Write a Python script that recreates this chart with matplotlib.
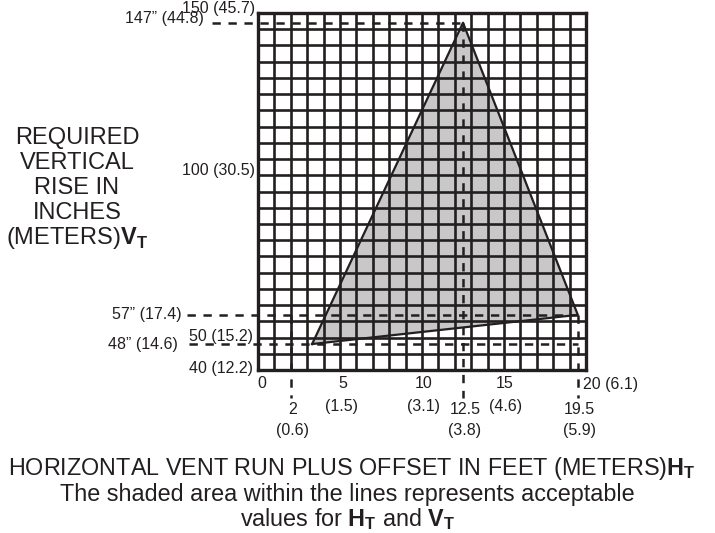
"""
Vent run chart: required vertical rise vs horizontal vent run + offset.
Grid with the acceptable region shaded as a triangle.
"""

import matplotlib
matplotlib.use("Agg")
import matplotlib.pyplot as plt
import numpy as np

# ── data ─────────────────────────────────────────────────────────────────
# acceptable region (H_T feet, V_T inches)
region_h = [3.3, 12.5, 19.5]
region_v = [48, 147, 57]

# dashed reference lines
ref_h_y     = [147, 57, 48]          # horizontal refs at these rises
ref_h_x_end = [12.5, 19.5, 19.5]
ref_h_x_beg = [-2.8, -4.3, -4.2]
ref_v_x     = [2, 12.5, 19.5]        # vertical refs at these runs
ref_v_y_top = [57, 147, 57]

# axis labels
y_labels = [
    (150, "150 (45.7)", -3, 5),
    (147, "147\u201d (44.8)", -54, 4),
    (100, "100 (30.5)", -3, 5),
    (57, "57\u201d (17.4)", -76, 0),
    (50, "50 (15.2)", -5, 1),
    (48, "48\u201d (14.6)", -80, 0),
    (40, "40 (12.2)", -5, 2),
]
x_labels_top = [(0, "0", 4), (5, "5", 3), (10, "10", 2), (15, "15", 1)]
x_labels_top_m = [(5, "(1.5)"), (10, "(3.1)"), (15, "(4.6)")]
x_labels_low = [(2, "2", "(0.6)"), (12.5, "12.5", "(3.8)"), (19.5, "19.5", "(5.9)")]

INK = "#231f20"
FILL = "#c8c8c8"

plt.rcParams.update({
    "font.family": "Liberation Sans",
    "mathtext.fontset": "custom",
    "mathtext.rm": "Liberation Sans",
    "mathtext.bf": "Liberation Sans:bold",
    "lines.scale_dashes": False,
})

fig = plt.figure(figsize=(7.15, 5.33), dpi=100)
ax = fig.add_axes([258 / 715, 1 - 370 / 533, 328 / 715, 357 / 533])
ax.set_xlim(0, 20)
ax.set_ylim(40, 150)

# shaded region
ax.fill(region_h, region_v, facecolor=FILL, edgecolor="none", zorder=1)

# grid
for gx in np.arange(0, 21, 1):
    ax.axvline(gx, color=INK, lw=1.9, zorder=2)
for gy in np.arange(40, 151, 5):
    ax.axhline(gy, color=INK, lw=1.9, zorder=2)

# triangle outline
ax.plot(region_h + region_h[:1], region_v + region_v[:1],
        color=INK, lw=1.6, zorder=4)

# dashed refs
for y, x0, x1 in zip(ref_h_y, ref_h_x_beg, ref_h_x_end):
    ax.plot([x0, x1], [y, y], color=INK, lw=1.8, dashes=(6, 5.5),
            clip_on=False, zorder=5)
for x, y1 in zip(ref_v_x, ref_v_y_top):
    ax.plot([x, x], [y1, 31.3], color=INK, lw=1.8, dashes=(6, 5.5),
            clip_on=False, zorder=5)

ax.set_xticks([])
ax.set_yticks([])
for s in ax.spines.values():
    s.set_linewidth(2.4)
    s.set_color(INK)

FS = 11.5
for y, txt, dx, dy in y_labels:
    ax.annotate(txt, (0, y), xytext=(dx, dy), textcoords="offset pixels",
                ha="right", va="center", fontsize=FS, color=INK)

for x, txt, dx in x_labels_top:
    ax.annotate(txt, (x, 40), xytext=(dx, -14), textcoords="offset pixels",
                ha="center", va="center", fontsize=FS, color=INK)
for x, txt in x_labels_top_m:
    ax.annotate(txt, (x, 40), xytext=(2, -36), textcoords="offset pixels",
                ha="center", va="center", fontsize=FS, color=INK)
for x, t1, t2 in x_labels_low:
    ax.annotate(t1, (x, 40), xytext=(2, -39), textcoords="offset pixels",
                ha="center", va="center", fontsize=FS, color=INK)
    ax.annotate(t2, (x, 40), xytext=(2, -61), textcoords="offset pixels",
                ha="center", va="center", fontsize=FS, color=INK)
ax.annotate("20 (6.1)", (20, 40), xytext=(-3, -14), textcoords="offset pixels",
            ha="left", va="center", fontsize=FS, color=INK)

# left axis title
left_lines = ["REQUIRED", "VERTICAL", "RISE IN", "INCHES",
              r"(METERS)$\mathbf{V}_{\mathbf{T}}$"]
for i, line in enumerate(left_lines):
    fig.text(77 / 715, 1 - (138 + 25 * i) / 533, line, ha="center",
             va="center", fontsize=17, color=INK)

# bottom title and caption
fig.text(352 / 715, 1 - 468 / 533,
         r"HORIZONTAL VENT RUN PLUS OFFSET IN FEET (METERS)$\mathbf{H}_{\mathbf{T}}$",
         ha="center", va="center", fontsize=16.8, color=INK)
fig.text(347 / 715, 1 - 495 / 533,
         "The shaded area within the lines represents acceptable",
         ha="center", va="center", fontsize=16.8, color=INK)
fig.text(348 / 715, 1 - 519 / 533,
         r"values for $\mathbf{H}_{\mathbf{T}}$ and $\mathbf{V}_{\mathbf{T}}$",
         ha="center", va="center", fontsize=16.8, color=INK)

fig.savefig("out.png", dpi=100, facecolor="white")
